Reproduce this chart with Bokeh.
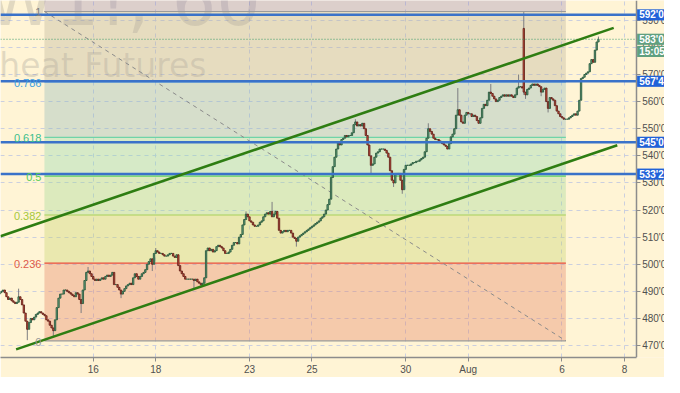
from bokeh.plotting import figure
from bokeh.models import ColumnDataSource, FixedTicker, Range1d
from bokeh.core.properties import value
from bokeh.embed import file_html
from bokeh.resources import INLINE

# ---------------- data (W1!, 60-minute closes, 18 bars per trading day) ----------------
BARS_PER_DAY = 18
jul11 = [489.5, 490, 490.5, 489.5, 488, 487, 487.5, 486.5, 486, 485.5, 486, 488, 487, 485, 482, 479, 476, 478.5]
jul12 = [480, 479.5, 480.5, 481.5, 482, 482.5, 482, 481.5, 481, 479.5, 479, 477.5, 476.5, 475.5, 479.5, 484, 487.5, 489]
jul13 = [489, 490.5, 490.5, 490, 489.5, 489, 488.5, 488, 489.5, 489, 487, 485.5, 490.5, 494, 497, 497.5, 496.5, 495.5]
jul16 = [494.5, 494, 494.5, 494, 494.5, 495, 494.5, 495.5, 496, 495.5, 496, 497, 492.5, 492.5, 491.5, 490.5, 489, 490]
jul17 = [491, 492, 492.5, 493, 492.5, 495, 496.5, 495.5, 494.5, 495.5, 496.5, 497, 498, 500, 501, 502, 500, 504]
jul18 = [505, 504.5, 504, 504, 503.5, 503, 503, 503.5, 504, 504, 503, 502.5, 503.5, 499.5, 497.5, 496.5, 495.5, 494.5]
jul19 = [494.5, 494.5, 494.5, 494.5, 494, 494.5, 493.5, 493, 492.5, 493, 495, 505, 506, 505, 505.5, 504.5, 505, 506.5]
jul20 = [507, 506.5, 506, 505, 504, 504, 504.5, 505.5, 507, 508, 508, 507.5, 510, 511, 514.5, 516.5, 518.5, 517.5]
jul23 = [516, 515.5, 514.5, 514, 514, 514.5, 515.5, 516, 517.5, 518.5, 519, 518.5, 519.5, 517.5, 518.5, 519.5, 517, 512.5]
jul24 = [511.5, 512, 512.5, 512, 512.5, 512.5, 511.5, 510, 509.5, 508.5, 510, 510.5, 511, 511.5, 512, 512.5, 513, 513.5]
jul25 = [514, 514.5, 515, 515.5, 516, 517, 517.5, 518.5, 520, 522, 524, 532, 536, 539.5, 542.5, 545, 544, 546]
jul26 = [546.5, 547.5, 547, 547.5, 547.5, 548.5, 551.5, 552.5, 551, 551.5, 551, 552, 550, 547.5, 544, 540, 536.5, 537]
jul27 = [539.5, 541, 541.5, 542.5, 542.5, 542.5, 542, 541, 539.5, 534.5, 531, 530, 533.5, 533.5, 533.5, 531, 527.5, 535]
jul30 = [536.5, 536.5, 536.5, 537, 537.5, 537.5, 538, 538, 538.5, 539, 539.5, 541.5, 546.5, 550, 549, 548, 546.5, 546]
jul31 = [546, 545.5, 545, 544.5, 544, 543.5, 542.5, 544.5, 547, 548, 550, 555, 557, 555, 552.5, 552, 555, 556]
aug01 = [555.5, 555.5, 554.5, 555, 554.5, 553, 552, 554, 557.5, 559, 558.5, 560.5, 563.5, 563, 562, 561, 560, 560.5]
aug02 = [561.5, 562, 562.5, 562, 562.5, 562, 562.5, 562, 561.5, 562.5, 565, 565.5, 565.5, 565, 563.5, 562.5, 564.5, 565]
aug03 = [566, 566.5, 566, 566.5, 566, 565.5, 563.5, 564.5, 565, 560, 557.5, 561.5, 561, 560.5, 558.5, 556.5, 555.5, 554.5]
aug06 = [554, 553.5, 553.5, 553.5, 554, 554.5, 555, 555.5, 555, 556.5, 560.5, 568.5, 569, 570, 570.5, 571, 574, 575.5]
aug07 = [574.5, 579, 582, 583]

# opens that differ from the previous close (gaps), keyed by bar index
open_gaps = {0: 489.0, 302: 587.0}
# visible wick extremes, keyed by bar index
wick_highs = {11: 491, 51: 499, 90: 506, 142: 519.5, 157: 523, 205: 553.5, 247: 552,
              264: 565, 283: 566.5, 299: 570, 302: 593, 345: 584}
wick_lows = {16: 472, 31: 473.5, 47: 482, 70: 487.5, 88: 497.5, 112: 491, 116: 491.5,
             171: 506.5, 214: 533, 227: 528.5, 232: 526, 302: 562.5, 303: 561, 312: 562, 316: 556}

# x-axis: trading-day index -> label
day_ticks = [3, 5, 8, 10, 13, 15, 18, 20]
day_labels = ["16", "18", "23", "25", "30", "Aug", "6", "8"]
# y-axis price ticks
price_ticks = [470, 480, 490, 500, 510, 520, 530, 540, 550, 560, 570, 580, 590]
price_labels = ["470'0", "480'0", "490'0", "500'0", "510'0", "520'0", "530'0", "540'0",
                "550'0", "560'0", "570'0", "580'0", "590'0"]

# Fibonacci retracement
fib_price_0 = 471.75
fib_price_1 = 593.25
fib_day_start = 1.4375
fib_day_end = 18.125
fib_levels = [0, 0.236, 0.382, 0.5, 0.618, 0.786, 1]
fib_band_top = 1.618
fib_labels = ["0", "0.236", "0.382", "0.5", "0.618", "0.786", "1"]

# horizontal support / resistance lines
hlines = [592.0, 567.5, 545.0, 533.25]
hline_labels = ["592'0", "567'4", "545'0", "533'2"]
last_price = 583.0
last_label = "583'0"
countdown = "15:05"

# trend channel (day index, price)
upper_channel_x = [0.031, 19.656]
upper_channel_y = [510.3, 587.2]
lower_channel_x = [0.531, 19.77]
lower_channel_y = [468.6, 543.9]

# ---------------- build OHLC ----------------
days = [jul11, jul12, jul13, jul16, jul17, jul18, jul19, jul20, jul23, jul24, jul25,
        jul26, jul27, jul30, jul31, aug01, aug02, aug03, aug06, aug07]
closes = [c for d in days for c in d]
n = len(closes)
opens = [None] + closes[:-1]
for i, v in open_gaps.items():
    opens[i] = v
highs = [max(o, c) for o, c in zip(opens, closes)]
lows = [min(o, c) for o, c in zip(opens, closes)]
for i, v in wick_highs.items():
    highs[i] = max(highs[i], v)
for i, v in wick_lows.items():
    lows[i] = min(lows[i], v)
xs = [i / BARS_PER_DAY for i in range(n)]
up = [c >= o for o, c in zip(opens, closes)]

src = ColumnDataSource(dict(
    x=xs, open=opens, close=closes, high=highs, low=lows,
    top=[max(o, c) for o, c in zip(opens, closes)],
    bottom=[min(o, c) for o, c in zip(opens, closes)],
    fill=["#6ba583" if u else "#d75442" for u in up],
    edge=["#225437" if u else "#5b1a13" for u in up],
))

BG = "#fff4d5"
FONT = "Liberation Sans"
X0, X1 = 1 / 32, 681 / 32      # visible day range incl. price-scale strip
AXIS_X = 652 / 32              # where the price scale sits
Y0, Y1 = 465.6, 597.3

p = figure(width=664, height=377, output_backend="svg", toolbar_location=None,
           x_range=Range1d(X0, X1), y_range=Range1d(Y0, Y1),
           y_axis_location="right", background_fill_color=BG, border_fill_color=BG,
           min_border_left=0, min_border_top=0, min_border_bottom=0, min_border_right=0)
p.outline_line_color = None

# axes
p.yaxis.fixed_location = AXIS_X
p.yaxis.ticker = FixedTicker(ticks=price_ticks)
p.yaxis.major_label_overrides = dict(zip(price_ticks, price_labels))
p.xaxis.ticker = FixedTicker(ticks=day_ticks)
p.xaxis.major_label_overrides = dict(zip(day_ticks, day_labels))
p.xaxis.bounds = (X0, AXIS_X)
for ax in (p.xaxis, p.yaxis):
    ax.axis_line_color = "#8c8c8c"
    ax.axis_line_width = 1.5
    ax.major_tick_line_color = "#8c8c8c"
    ax.major_tick_out = 4
    ax.major_tick_in = 0
    ax.minor_tick_line_color = None
    ax.major_label_text_font = FONT
    ax.major_label_text_font_size = "10px"
    ax.major_label_text_color = "#505050"
    ax.major_label_standoff = 2

for g, tk in ((p.xgrid, day_ticks), (p.ygrid, price_ticks)):
    g.ticker = FixedTicker(ticks=tk)
    g.grid_line_color = "#c5cbe0"
    g.grid_line_dash = "4 4"
    g.grid_line_alpha = 0.9

# watermark
p.text(x=[-0.45], y=[597.0], text=["W1!, 60"], text_font=value("DejaVu Sans"),
       text_font_size="70px", text_color="#777777", text_alpha=0.22, text_baseline="middle")
p.text(x=[-1.05], y=[573.3], text=["Wheat Futures"], text_font=value("DejaVu Sans"),
       text_font_size="33px", text_color="#777777", text_alpha=0.22, text_baseline="middle")

# fib bands
rng = fib_price_1 - fib_price_0
band_levels = fib_levels + [fib_band_top]
band_colors = ["#e27c5e", "#c3d269", "#9bd791", "#8ad7ae", "#8ab5b9", "#b8af97", "#9a8aba"]
p.quad(left=[fib_day_start] * 7, right=[fib_day_end] * 7,
       bottom=[fib_price_0 + rng * band_levels[i] for i in range(7)],
       top=[fib_price_0 + rng * band_levels[i + 1] for i in range(7)],
       fill_color=band_colors, fill_alpha=0.35, line_color=None)
fib_prices = [fib_price_0 + rng * l for l in fib_levels]
line_colors = ["#9a9a9a", "#e8503f", "#a8d05a", "#5fd35f", "#6fd4a8", "#5aa9e6", "#9a9a9a"]
text_colors = ["#999999", "#e05a4a", "#a5c83c", "#55cc55", "#3cbf8c", "#3d9ee0", "#808080"]
p.segment(x0=[fib_day_start] * 7, x1=[fib_day_end] * 7, y0=fib_prices, y1=fib_prices,
          line_color=line_colors, line_width=1.2)
p.line([fib_day_start, fib_day_end], [fib_price_1, fib_price_0], line_color="#8a8a8a",
       line_dash="4 4", line_width=1)

# candles
p.segment(x0="x", x1="x", y0="low", y1="high", source=src, line_color="#7d7d80", line_width=1)
p.vbar(x="x", width=0.8 / BARS_PER_DAY, top="top", bottom="bottom", source=src,
       fill_color="fill", line_color="edge", line_width=0.8)

# last price dotted line
p.segment(x0=[X0], x1=[AXIS_X], y0=[last_price], y1=[last_price], line_color="#3c9a6a",
          line_dash="1 2", line_width=1)
# horizontal blue lines
p.segment(x0=[X0] * 4, x1=[AXIS_X] * 4, y0=hlines, y1=hlines, line_color="#3a72c9", line_width=2.5)

# channel
p.line(upper_channel_x, upper_channel_y, line_color="#2e7d12", line_width=2.6)
p.line(lower_channel_x, lower_channel_y, line_color="#2e7d12", line_width=2.6)

# fib labels on top
p.text(x=[fib_day_start] * 7, y=fib_prices, text=fib_labels, text_align="right",
       text_baseline="middle", x_offset=-3, y_offset=1, text_font=value(FONT),
       text_font_size="11px", text_color=text_colors)

# price-scale strip: hide grid there
p.quad(left=[AXIS_X], right=[X1], bottom=[Y0], top=[Y1], fill_color=BG, line_color=None)

# price tags on the price scale
TAG_H = 2.05
tag_y = hlines + [last_price]
tag_c = ["#2162d8"] * 4 + ["#60a080"]
r1 = p.quad(left=[AXIS_X + 0.03] * 5, right=[X1] * 5,
            bottom=[y - TAG_H for y in tag_y], top=[y + TAG_H for y in tag_y],
            fill_color=tag_c, line_color=None)
r2 = p.text(x=[AXIS_X] * 5, y=tag_y, text=hline_labels + [last_label], x_offset=3,
            text_align="left", text_baseline="middle", text_font=value(FONT),
            text_font_size="10px", text_font_style="bold", text_color="white")
# countdown tag under the last price
r3 = p.quad(left=[AXIS_X + 0.03], right=[X1], bottom=[last_price - 3 * TAG_H - 0.4],
            top=[last_price - TAG_H - 0.4], fill_color="#60a080", line_color=None)
r4 = p.text(x=[AXIS_X], y=[last_price - 2 * TAG_H - 0.4], text=[countdown], x_offset=3,
            text_align="left", text_baseline="middle", text_font=value(FONT),
            text_font_size="10px", text_font_style="bold", text_color="white")
for r in (r1, r2, r3, r4):
    r.level = "overlay"

open("out.html", "w").write(file_html(p, INLINE))
